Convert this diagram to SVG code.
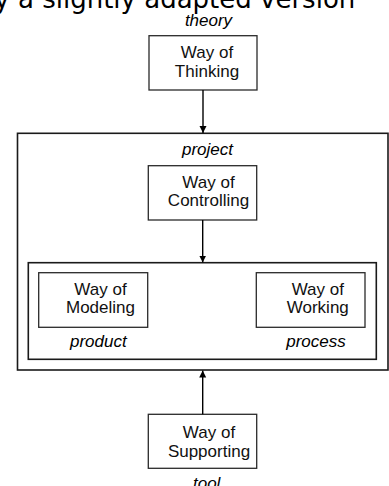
<svg xmlns="http://www.w3.org/2000/svg" width="389" height="486" viewBox="0 0 389 486">
  <style>
    .frame { fill: none; stroke: #1a1a1a; stroke-width: 1.6; }
    .box { fill: #ffffff; stroke: #2a2a2a; stroke-width: 1.3; }
    .txt { font-family: "Liberation Sans", Arial, sans-serif; font-size: 17px; fill: #111; text-anchor: middle; }
    .lbl { font-family: "Liberation Sans", Arial, sans-serif; font-size: 17px; font-style: italic; fill: #000; text-anchor: middle; }
    .head { font-family: "DejaVu Sans", Verdana, sans-serif; font-size: 26px; fill: #000; }
    .conn { stroke: #000; stroke-width: 1.4; fill: none; marker-end: url(#arrow); }
  </style>
  <defs>
    <marker id="arrow" viewBox="0 0 10 10" refX="10" refY="5" markerWidth="7" markerHeight="10" markerUnits="userSpaceOnUse" orient="auto">
      <path d="M0,0 L10,5 L0,10 Z" fill="#000"/>
    </marker>
  </defs>
  <rect width="389" height="486" fill="#ffffff"/>

  <!-- caption line running off the top edge -->
  <text class="head" x="-5.7" y="8">y a slightly adapted version</text>

  <!-- containers -->
  <g id="project">
    <rect class="frame" x="17.5" y="133.3" width="370.5" height="236.7"/>
    <text class="lbl" x="207.5" y="155">project</text>
  </g>
  <g id="product-process">
    <rect class="frame" x="28.3" y="262.7" width="348" height="96.6" stroke-width="1.4"/>
  </g>

  <!-- nodes -->
  <g id="thinking">
    <text class="lbl" x="208.5" y="26">theory</text>
    <rect class="box" x="149" y="35.7" width="108" height="54.3"/>
    <text class="txt" x="207" y="58">Way of</text>
    <text class="txt" x="207" y="76.5">Thinking</text>
  </g>
  <g id="controlling">
    <rect class="box" x="148.3" y="165.7" width="108.4" height="54.3"/>
    <text class="txt" x="208.5" y="187.5">Way of</text>
    <text class="txt" x="208.5" y="206">Controlling</text>
  </g>
  <g id="modeling">
    <rect class="box" x="38.7" y="272.7" width="109" height="54.6"/>
    <text class="txt" x="100.5" y="295">Way of</text>
    <text class="txt" x="100.5" y="313.3">Modeling</text>
    <text class="lbl" x="98.3" y="346.7">product</text>
  </g>
  <g id="working">
    <rect class="box" x="256.3" y="272.7" width="108.7" height="54.6"/>
    <text class="txt" x="317.8" y="295">Way of</text>
    <text class="txt" x="317.8" y="313.3">Working</text>
    <text class="lbl" x="316" y="346.7">process</text>
  </g>
  <g id="supporting">
    <rect class="box" x="148.3" y="414.3" width="108.4" height="54"/>
    <text class="txt" x="209" y="438">Way of</text>
    <text class="txt" x="209" y="456.5">Supporting</text>
    <text class="lbl" x="206.7" y="489">tool</text>
  </g>

  <!-- connectors -->
  <g id="connectors">
    <line class="conn" x1="203" y1="90" x2="203" y2="133"/>
    <line class="conn" x1="202.7" y1="220" x2="202.7" y2="262.5"/>
    <line class="conn" x1="202.7" y1="414.3" x2="202.7" y2="370.5"/>
  </g>
</svg>
